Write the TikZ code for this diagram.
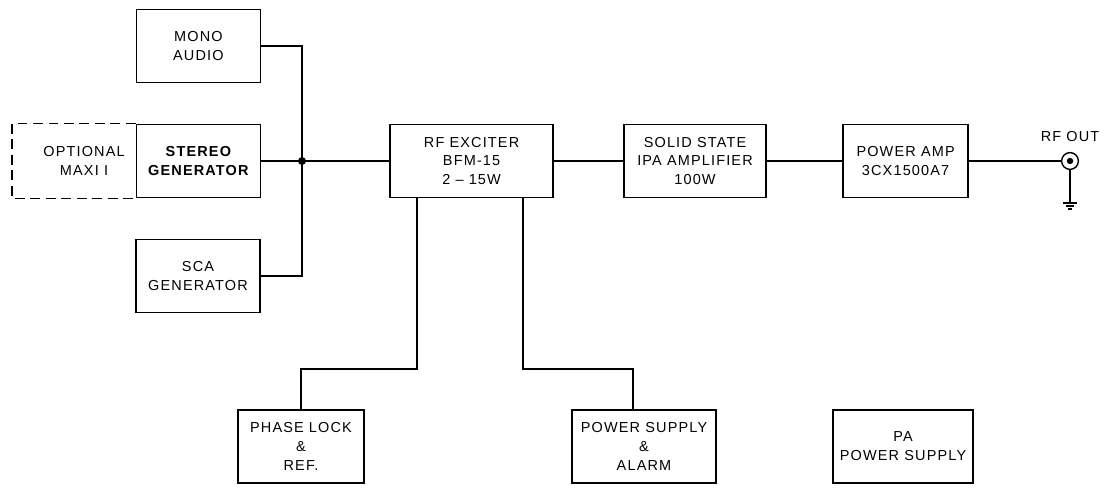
\documentclass[tikz,border=0pt]{standalone}
\usepackage{fontspec}
\setmainfont{Liberation Sans}[LetterSpace=8]
\tikzset{
  blk/.style={draw,line width=1pt,minimum width=#1,minimum height=1.825cm,
    align=center,inner sep=2pt,font=\fontsize{10.3}{13.5}\selectfont},
  blk/.default=3.1cm,
  lbl/.style={align=center,inner sep=0pt,font=\fontsize{10.3}{13.5}\selectfont},
  wire/.style={line width=0.8pt},
  optline/.style={line width=0.8pt,dash pattern=on 7pt off 4pt},
}
\begin{document}
\begin{tikzpicture}
  \useasboundingbox (0,0) rectangle (27.6,12.175);
  % audio inputs
  \node[blk] (mono)   at (4.96,11.025) {MONO\\AUDIO};
  \node[blk,font=\fontsize{10.3}{13.5}\selectfont\bfseries] (stereo) at (4.96,8.15) {STEREO\\GENERATOR};
  \node[blk] (sca)    at (4.95,5.275) {SCA\\GENERATOR};
  \node[lbl] (maxi) at (2.1,8.15) {OPTIONAL\\MAXI I};
  \coordinate (optL) at (0.3,8.15);
  \draw[optline] (stereo.north west) -| (optL) |- (stereo.south west);
  % main chain
  \node[blk=4.075cm] (exciter) at (11.79,8.15) {RF EXCITER\\BFM-15\\2 -- 15W};
  \node[blk=3.55cm]  (ipa)     at (17.375,8.15) {SOLID STATE\\IPA AMPLIFIER\\100W};
  \node[blk=3.125cm] (pa)      at (22.64,8.15) {POWER AMP\\3CX1500A7};
  % supplies
  \node[blk=3.15cm] (phase) at (7.525,1.0125) {PHASE LOCK\\\&\\REF.};
  \node[blk=3.6cm]  (psu)   at (16.1,1.0125) {POWER SUPPLY\\\&\\ALARM};
  \node[blk=3.5cm]  (papsu) at (22.575,1.0125) {PA\\POWER SUPPLY};
  % summing point
  \coordinate (j) at (7.55,8.15);
  \fill (j) circle (0.1);
  \draw[wire] (mono.east) -| (j);
  \draw[wire] (sca.east) -| (j);
  \draw[wire] (stereo.east) -- (j) -- (exciter.west);
  \draw[wire] (exciter.east) -- (ipa.west);
  \draw[wire] (ipa.east) -- (pa.west);
  % exciter to phase lock / power supply
  \coordinate (kneeA) at (10.425,2.95);
  \coordinate (kneeB) at (13.075,2.95);
  \coordinate (kneeC) at (15.825,2.95);
  \draw[wire] (exciter.south -| kneeA) -- (kneeA) -| (phase.north);
  \draw[wire] (exciter.south -| kneeB) -- (kneeB) -- (kneeC) -- (kneeC |- psu.north);
  % output connector
  \node[circle,draw,line width=1pt,minimum size=0.42cm,inner sep=0pt] (bnc) at (26.75,8.15) {};
  \fill (bnc.center) circle (0.08);
  \node[lbl] (rflbl) at (26.75,8.75) {RF OUT};
  \coordinate (gnd) at (26.75,7.1);
  \draw[wire] (pa.east) -- (bnc.west);
  \draw[wire] (bnc.south) -- (gnd);
  \draw[wire] (gnd) ++(-0.175,0) -- ++(0.35,0);
  \draw[wire] (gnd) ++(-0.11,-0.075) -- ++(0.22,0);
  \draw[wire] (gnd) ++(-0.05,-0.15) -- ++(0.1,0);
\end{tikzpicture}
\end{document}
